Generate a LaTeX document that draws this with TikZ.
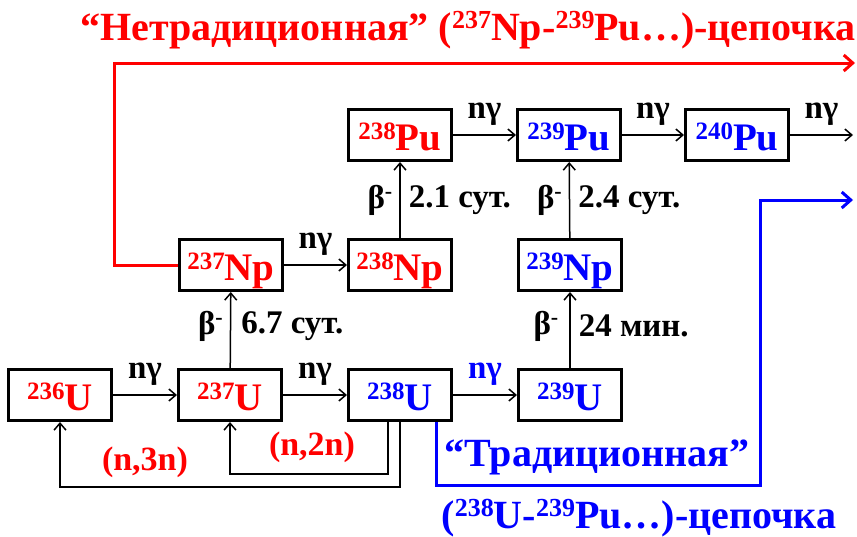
\documentclass[tikz,border=0pt]{standalone}
\usepackage{fontspec}
\setmainfont{Liberation Serif}
\newfontfamily\tnr{Liberation Serif}
\usetikzlibrary{arrows.meta}
\definecolor{cred}{RGB}{255,0,0}
\definecolor{cblue}{RGB}{0,0,255}
\newcommand\iso[2]{\raisebox{11pt}{\fontsize{25}{25}\selectfont #1}#2}
\newcommand\tiso[2]{\raisebox{12pt}{\fontsize{26}{26}\selectfont #1}#2}
\newcommand\bminus{β\raisebox{10pt}{\fontsize{22}{22}\selectfont -}}
\begin{document}
\begin{tikzpicture}[x=1pt,y=-1pt,
  box/.style={draw, line width=3pt, minimum width=103pt, minimum height=51pt, inner sep=0pt,
    text height=32pt, text depth=2pt, font=\tnr\bfseries\fontsize{39}{39}\selectfont},
  arr/.style={-{Straight Barb[length=7pt,width=12pt]}, line width=1.5pt},
  chain/.style={-{Straight Barb[length=9pt,width=16pt]}, line width=3pt},
  lab/.style={font=\tnr\bfseries\fontsize{33}{33}\selectfont, inner sep=0pt},
  redlab/.style={font=\tnr\bfseries\fontsize{34}{34}\selectfont, inner sep=0pt, text=cred},
  big/.style={font=\tnr\bfseries\fontsize{40}{40}\selectfont, inner sep=0pt, anchor=base}
]
\useasboundingbox (0,0) rectangle (857,536);
% boxes
\node[box,text=cred]  (u236)  at (60,395)  {\iso{236}{U}};
\node[box,text=cred]  (u237)  at (230,395) {\iso{237}{U}};
\node[box,text=cblue] (u238)  at (400,395) {\iso{238}{U}};
\node[box,text=cblue] (u239)  at (570,395) {\iso{239}{U}};
\node[box,text=cred]  (np237) at (231,265) {\iso{237}{Np}};
\node[box,text=cred]  (np238) at (400,265) {\iso{238}{Np}};
\node[box,text=cblue] (np239) at (570,265) {\iso{239}{Np}};
\node[box,text=cred]  (pu238) at (400,135) {\iso{238}{Pu}};
\node[box,text=cblue] (pu239) at (569,135) {\iso{239}{Pu}};
\node[box,text=cblue] (pu240) at (737,135) {\iso{240}{Pu}};
\coordinate (pend) at (853,135);
% horizontal n-gamma arrows
\draw[arr] (u236) -- node[lab, midway, anchor=base, yshift=17pt] {nγ} (u237);
\draw[arr] (u237) -- node[lab, midway, anchor=base, yshift=17pt] {nγ} (u238);
\draw[arr] (u238) -- node[lab, midway, anchor=base, yshift=17pt, text=cblue] {nγ} (u239);
\draw[arr] (np237) -- node[lab, midway, anchor=base, yshift=17pt] {nγ} (np238);
\draw[arr] (pu238) -- node[lab, midway, anchor=base, yshift=17pt] {nγ} (pu239);
\draw[arr] (pu239) -- node[lab, midway, anchor=base, yshift=17pt] {nγ} (pu240);
\draw[arr] (pu240) -- node[lab, midway, anchor=base, yshift=17pt] {nγ} (pend);
% beta decays
\draw[arr] (u237) -- node[lab, midway, anchor=east, xshift=-7pt, yshift=4pt] {\bminus}
                    node[lab, midway, anchor=west, xshift=10pt, yshift=4pt] {6.7 сут.} (np237);
\draw[arr] (np238) -- node[lab, midway, anchor=east, xshift=-7pt] {\bminus}
                    node[lab, midway, anchor=west, xshift=8pt] {2.1 сут.} (pu238);
\draw[arr] (np239) -- node[lab, midway, anchor=east, xshift=-7pt] {\bminus}
                    node[lab, midway, anchor=west, xshift=8pt] {2.4 сут.} (pu239);
\draw[arr] (u239) -- node[lab, midway, anchor=east, xshift=-11pt, yshift=4pt] {\bminus}
                    node[lab, midway, anchor=west, xshift=8pt, yshift=4pt] {24 мин.} (np239);
% (n,2n) and (n,3n) feedback
\draw[arr] ([xshift=-12pt]u238.south) -- ++(0,52) -| (u237.south);
\draw[arr] (u238.south) -- ++(0,65) -| (u236.south);
\node[redlab] (n2n) at (312,447) {(n,2n)};
\node[redlab] (n3n) at (145,462) {(n,3n)};
% red non-traditional chain
\coordinate (rc) at (114,63);
\coordinate (rend) at (855,63);
\draw[chain, cred] (np237.west) -| (rc) -- (rend);
\node[big, text=cred] (title) at (468,40) {“Нетрадиционная” (\tiso{237}{Np}-\tiso{239}{Pu}…)-цепочка};
% blue traditional chain
\coordinate (bc1) at (760,485);
\coordinate (bc2) at (760,200);
\coordinate (bend) at (853,200);
\draw[chain, cblue, line join=miter] ([xshift=36pt]u238.south) |- (bc1) -- (bc2) -- (bend);
\node[big, text=cblue] (trad) at (597,466) {“Традиционная”};
\node[big, text=cblue] (trad2) at (639,528) {(\tiso{238}{U}-\tiso{239}{Pu}…)-цепочка};
\end{tikzpicture}
\end{document}
